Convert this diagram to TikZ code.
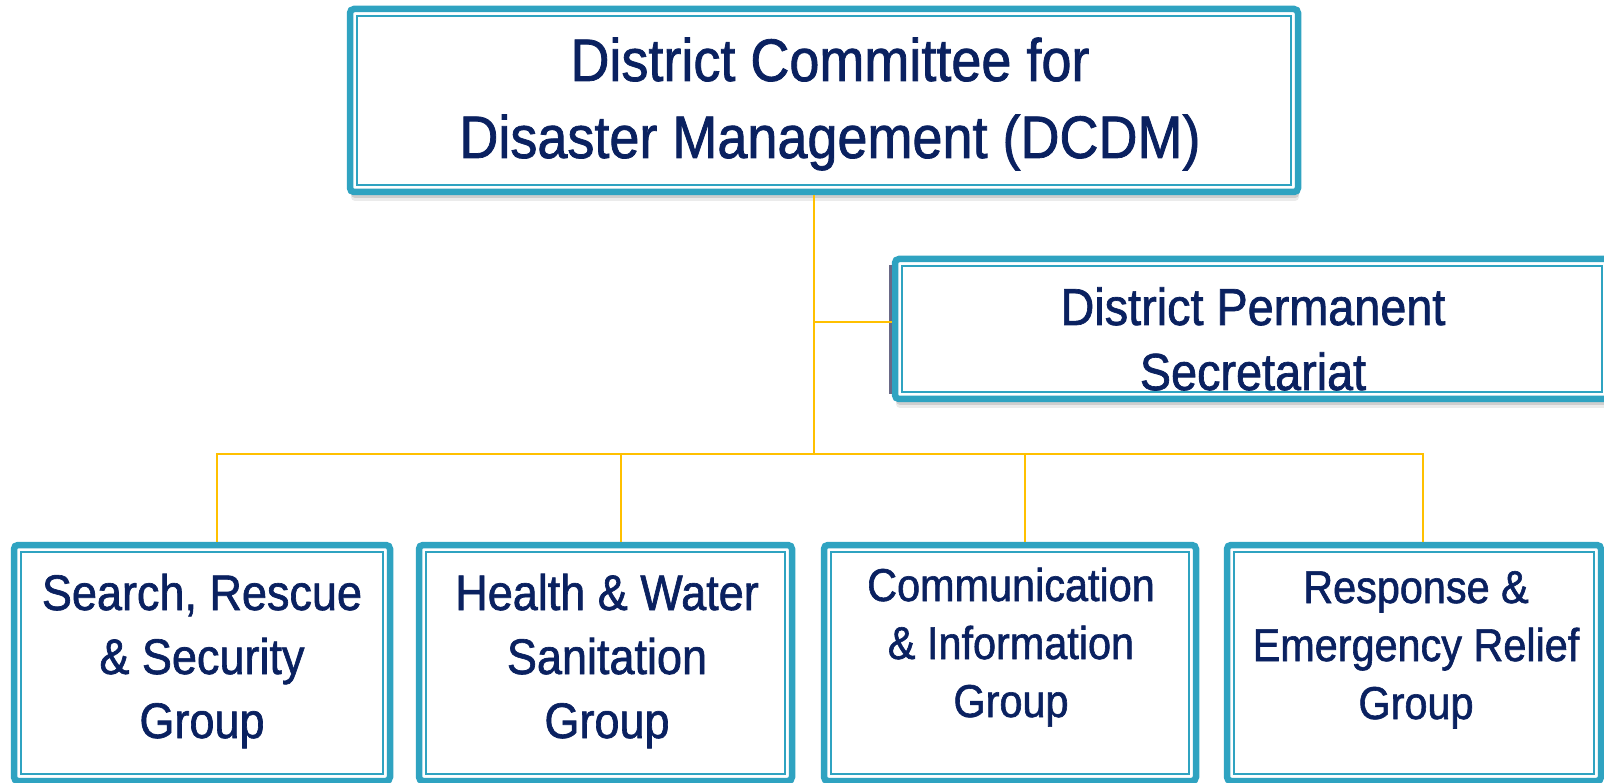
\documentclass[tikz,border=0pt]{standalone}
\usepackage{fontspec}
\setmainfont{Liberation Sans}[FakeStretch=0.9, FakeBold=1.3]
\usetikzlibrary{shadows}

\definecolor{frame}{HTML}{2FA3C1}
\definecolor{navy}{HTML}{0A2160}
\definecolor{wire}{HTML}{FFC000}

\tikzset{
  unitbox/.style={draw=frame, fill=white, line width=6.5pt, rounded corners=4pt,
    inner sep=0pt, outer sep=0pt,
    preaction={fill=black, opacity=0.08, transform canvas={xshift=1pt, yshift=-9pt}},
    preaction={fill=black, opacity=0.12, transform canvas={xshift=1pt, yshift=-6pt}},
    preaction={fill=black, opacity=0.15, transform canvas={xshift=0.5pt, yshift=-3pt}}},
  innerline/.style={draw=frame, line width=2pt},
  label/.style={text=navy, align=center, anchor=base, inner sep=0pt},
  link/.style={draw=wire, line width=2pt},
}

\begin{document}
\begin{tikzpicture}[x=1pt, y=-1pt]
\useasboundingbox (0,0) rectangle (1604,783);

% boxes (size measured along the centre of the thick frame)
\node[unitbox, minimum width=948pt, minimum height=183pt] (dcdm) at (824,100.5) {};
\node[unitbox, minimum width=714pt, minimum height=140pt] (sec)  at (1252,329) {};
\node[unitbox, minimum width=376pt, minimum height=236pt] (g1)   at (202,663) {};
\node[unitbox, minimum width=373pt, minimum height=236pt] (g2)   at (605.5,663) {};
\node[unitbox, minimum width=372pt, minimum height=236pt] (g3)   at (1010,663) {};
\node[unitbox, minimum width=374pt, minimum height=236pt] (g4)   at (1414,663) {};

% thin inner frame of every box
\foreach \n in {dcdm,sec,g1,g2,g3,g4}
  \draw[innerline] ([shift={(7,7)}]\n.north west) rectangle ([shift={(-7,-7)}]\n.south east);

% dark edge on the left of the secretariat box
\draw[line width=3pt, draw={rgb,255:red,105;green,105;blue,135}]
  ([shift={(-4.5,6)}]sec.north west) -- ([shift={(-4.5,-5)}]sec.south west);

% texts (anchored on the baseline of their last line)
\node[label, font=\fontsize{60}{77}\selectfont] (dcdmt) at (830,158)
  {District Committee for\\Disaster Management (DCDM)};
\node[label, font=\fontsize{52}{65}\selectfont] (sect) at (1253,390)
  {District Permanent\\Secretariat};
\node[label, font=\fontsize{50}{64}\selectfont] (g1t) at (202,738)
  {Search, Rescue\\\& Security\\Group};
\node[label, font=\fontsize{50}{64}\selectfont] (g2t) at (607,738)
  {Health \& Water\\Sanitation\\Group};
\node[label, font=\fontsize{46}{58}\selectfont] (g3t) at (1011,717)
  {Communication\\\& Information\\Group};
\node[label, font=\fontsize{46}{58}\selectfont] (g4t) at (1416,719)
  {Response \&\\Emergency Relief\\Group};

% connectors
\coordinate (hub) at (814,454);
\coordinate (sj)  at (814,322);
\coordinate (b1)  at (217,454);
\coordinate (b2)  at (621,454);
\coordinate (b3)  at (1025,454);
\coordinate (b4)  at (1423,454);

\draw[link, shorten <=3pt] (dcdm.south -| hub) -- (hub);
\draw[link, shorten >=3pt] (sj) -- (sj -| sec.west);
\draw[link, shorten <=3pt, shorten >=3pt] (b1 |- g1.north) -- (b1) -- (b4) -- (b4 |- g4.north);
\draw[link, shorten >=3pt] (b2) -- (b2 |- g2.north);
\draw[link, shorten >=3pt] (b3) -- (b3 |- g3.north);
\end{tikzpicture}
\end{document}
